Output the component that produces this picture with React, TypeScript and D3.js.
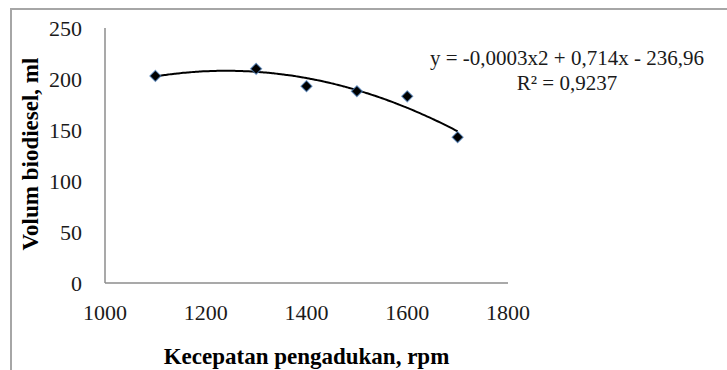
import React from "react";
import * as d3 from "d3";

const speeds = [1100, 1300, 1400, 1500, 1600, 1700];
const volumes = [203, 210, 193, 188, 183, 143];
const xTicks = [1000, 1200, 1400, 1600, 1800];
const yTicks = [0, 50, 100, 150, 200, 250];
const equationText = "y = -0,0003x2 + 0,714x - 236,96";
const r2Text = "R² = 0,9237";
const xTitle = "Kecepatan pengadukan, rpm";
const yTitle = "Volum biodiesel, ml";

function fitQuadratic(xs: number[], ys: number[]) {
  const n = xs.length;
  const mx = d3.mean(xs) as number;
  const u = xs.map((x) => (x - mx) / 100);
  let s = [0, 0, 0, 0, 0];
  let t = [0, 0, 0];
  for (let i = 0; i < n; i++) {
    for (let k = 0; k <= 4; k++) s[k] += Math.pow(u[i], k);
    for (let k = 0; k <= 2; k++) t[k] += ys[i] * Math.pow(u[i], k);
  }
  const A = [
    [s[0], s[1], s[2], t[0]],
    [s[1], s[2], s[3], t[1]],
    [s[2], s[3], s[4], t[2]],
  ];
  for (let i = 0; i < 3; i++) {
    for (let j = i + 1; j < 3; j++) {
      const f = A[j][i] / A[i][i];
      for (let k = i; k < 4; k++) A[j][k] -= f * A[i][k];
    }
  }
  const c = [0, 0, 0];
  for (let i = 2; i >= 0; i--) {
    let v = A[i][3];
    for (let k = i + 1; k < 3; k++) v -= A[i][k] * c[k];
    c[i] = v / A[i][i];
  }
  return (x: number) => {
    const uu = (x - mx) / 100;
    return c[0] + c[1] * uu + c[2] * uu * uu;
  };
}

export default function App() {
  const W = 727;
  const H = 370;
  const x = d3.scaleLinear().domain([1000, 1800]).range([105, 508]);
  const y = d3.scaleLinear().domain([0, 250]).range([283, 28]);
  const f = fitQuadratic(speeds, volumes);
  const xs = d3.range(1100, 1700.001, 5);
  const line = d3
    .line<number>()
    .x((d) => x(d))
    .y((d) => y(f(d)))
    .curve(d3.curveMonotoneX);
  const serif = "'Liberation Serif', 'Times New Roman', serif";
  return (
    <svg
      width={W}
      height={H}
      style={{ position: "absolute", left: 0, top: 0 }}
      fontFamily={serif}
    >
      <rect x={0} y={0} width={W} height={H} fill="#fff" />
      <rect
        x={11}
        y={9}
        width={W + 20}
        height={H + 20}
        fill="none"
        stroke="#a6a6a6"
        strokeWidth={2}
      />
      <line x1={x(1000)} x2={x(1000)} y1={y(250)} y2={y(0)} stroke="#8c8c8c" strokeWidth={1.5} />
      <line x1={x(1000)} x2={x(1800)} y1={y(0)} y2={y(0)} stroke="#8c8c8c" strokeWidth={1.5} />
      {yTicks.map((t) => (
        <text key={t} x={82} y={y(t)} dy="0.35em" textAnchor="end" fontSize={22} fill="#1a1a1a">
          {t}
        </text>
      ))}
      {xTicks.map((t) => (
        <text key={t} x={x(t)} y={312} dy="0.35em" textAnchor="middle" fontSize={22} fill="#1a1a1a">
          {t}
        </text>
      ))}
      <path d={line(xs) || ""} fill="none" stroke="#000" strokeWidth={2} />
      {speeds.map((s, i) => (
        <path
          key={s}
          transform={`translate(${x(s)},${y(volumes[i])})`}
          d="M0,-5.5L5.5,0L0,5.5L-5.5,0Z"
          fill="#000"
          stroke="#4f81bd"
          strokeWidth={1.2}
          strokeOpacity={0.7}
        />
      ))}
      <text x={567} y={58} dy="0.35em" textAnchor="middle" fontSize={21} fill="#1a1a1a">
        {equationText}
      </text>
      <text x={567} y={83} dy="0.35em" textAnchor="middle" fontSize={21} fill="#1a1a1a">
        {r2Text}
      </text>
      <text
        x={306.5}
        y={356}
        dy="0.35em"
        textAnchor="middle"
        fontSize={23}
        fontWeight="bold"
        fill="#000"
      >
        {xTitle}
      </text>
      <text
        transform={`translate(30,154) rotate(-90)`}
        dy="0.35em"
        textAnchor="middle"
        fontSize={23}
        fontWeight="bold"
        fill="#000"
      >
        {yTitle}
      </text>
    </svg>
  );
}
